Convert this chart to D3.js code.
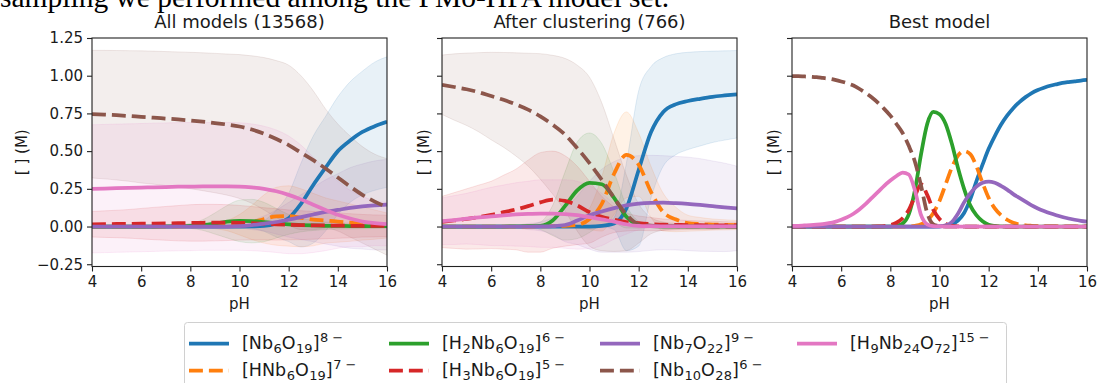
<!DOCTYPE html>
<html><head><meta charset="utf-8">
<script src="https://cdn.jsdelivr.net/npm/d3@7"></script>
<style>
body{margin:0;background:#fff;}
svg{display:block;font-family:"DejaVu Sans",sans-serif;}
</style></head><body>
<svg id="c" width="1099" height="383"></svg>
<script>
// ---------- DATA ----------
const titles = ["All models (13568)", "After clustering (766)", "Best model"];
const xTicks = [4, 6, 8, 10, 12, 14, 16];
const yTicks = [-0.25, 0, 0.25, 0.5, 0.75, 1.0, 1.25];
const labels = ["[Nb_{6}O_{19}]^{8 −}", "[HNb_{6}O_{19}]^{7 −}", "[H_{2}Nb_{6}O_{19}]^{6 −}", "[H_{3}Nb_{6}O_{19}]^{5 −}",
                "[Nb_{7}O_{22}]^{9 −}", "[Nb_{10}O_{28}]^{6 −}", "[H_{9}Nb_{24}O_{72}]^{15 −}"];
const phA = [4,4.5,5,5.5,6,6.5,7,7.5,8,8.5,9,9.5,10,10.5,11,11.5,12,12.5,13,13.5,14,14.5,15,15.5,16];
const phB = [4,4.25,4.5,4.75,5,5.25,5.5,5.75,6,6.25,6.5,6.75,7,7.25,7.5,7.75,8,8.25,8.5,8.75,9,9.25,9.5,9.75,
             10,10.25,10.5,10.75,11,11.25,11.5,11.75,12,12.25,12.5,12.75,13,13.25,13.5,13.75,14,14.25,14.5,14.75,
             15,15.25,15.5,15.75,16];

// Panel 1: all models (mean, lower, upper)
const a_blue      = [0,0,0,0,0,0,0,0,0,0,0,0,0,0.001,0.004,0.02,0.055,0.15,0.275,0.39,0.5,0.57,0.627,0.665,0.694];
const a_blue_hi   = [0.003,0.003,0.003,0.003,0.003,0.003,0.003,0.003,0.003,0.004,0.005,0.006,0.008,0.015,0.04,0.11,0.22,0.42,0.6,0.73,0.86,0.96,1.03,1.09,1.125];
const a_blue_lo   = [-0.003,-0.003,-0.003,-0.003,-0.003,-0.003,-0.003,-0.003,-0.003,-0.004,-0.005,-0.006,-0.008,-0.013,-0.032,-0.07,-0.1,-0.135,-0.11,-0.03,0.08,0.16,0.21,0.24,0.26];
const a_orange    = [0,0,0,0,0,0,0,0,0.001,0.002,0.003,0.006,0.012,0.027,0.05,0.068,0.07,0.058,0.046,0.04,0.033,0.026,0.02,0.013,0.007];
const a_orange_hi = [0.005,0.005,0.005,0.005,0.005,0.005,0.005,0.005,0.008,0.012,0.02,0.04,0.08,0.14,0.21,0.26,0.27,0.25,0.22,0.19,0.17,0.15,0.13,0.11,0.09];
const a_orange_lo = [-0.005,-0.005,-0.005,-0.005,-0.005,-0.005,-0.005,-0.005,-0.006,-0.008,-0.014,-0.028,-0.056,-0.086,-0.11,-0.124,-0.13,-0.134,-0.128,-0.11,-0.104,-0.098,-0.09,-0.084,-0.076];
const a_green     = [0,0,0,0,0,0,0.001,0.002,0.004,0.01,0.02,0.032,0.037,0.036,0.03,0.022,0.014,0.01,0.007,0.005,0.004,0.003,0.003,0.002,0.002];
const a_green_hi  = [0.005,0.005,0.005,0.005,0.005,0.005,0.006,0.01,0.02,0.045,0.09,0.14,0.175,0.18,0.16,0.12,0.08,0.055,0.04,0.03,0.025,0.022,0.02,0.017,0.015];
const a_green_lo  = [-0.005,-0.005,-0.005,-0.005,-0.005,-0.005,-0.004,-0.006,-0.012,-0.025,-0.05,-0.076,-0.1,-0.108,-0.1,-0.076,-0.052,-0.035,-0.026,-0.02,-0.017,-0.016,-0.014,-0.013,-0.011];
const a_red       = [0.015,0.016,0.017,0.018,0.019,0.02,0.021,0.022,0.024,0.025,0.026,0.026,0.025,0.022,0.018,0.014,0.011,0.009,0.008,0.007,0.006,0.005,0.005,0.004,0.004];
const a_red_hi    = [0.1,0.104,0.108,0.113,0.12,0.127,0.133,0.139,0.145,0.147,0.147,0.145,0.14,0.133,0.125,0.118,0.11,0.105,0.1,0.095,0.09,0.085,0.08,0.077,0.075];
const a_red_lo    = [-0.07,-0.072,-0.074,-0.077,-0.082,-0.087,-0.091,-0.095,-0.097,-0.097,-0.095,-0.093,-0.09,-0.089,-0.089,-0.09,-0.088,-0.087,-0.084,-0.081,-0.078,-0.075,-0.07,-0.069,-0.067];
const a_purple    = [0,0,0,0,0,0,0,0,0,0,0,0,0.003,0.01,0.02,0.03,0.045,0.062,0.08,0.097,0.11,0.123,0.133,0.14,0.145];
const a_purple_hi = [0.005,0.005,0.005,0.005,0.005,0.005,0.005,0.005,0.005,0.005,0.005,0.007,0.015,0.04,0.07,0.11,0.16,0.21,0.26,0.31,0.35,0.39,0.415,0.435,0.445];
const a_purple_lo = [-0.005,-0.005,-0.005,-0.005,-0.005,-0.005,-0.005,-0.005,-0.005,-0.005,-0.005,-0.007,-0.009,-0.02,-0.03,-0.05,-0.07,-0.086,-0.1,-0.116,-0.13,-0.144,-0.149,-0.155,-0.155];
const a_brown     = [0.745,0.742,0.738,0.733,0.727,0.722,0.716,0.71,0.703,0.695,0.686,0.676,0.663,0.643,0.615,0.58,0.54,0.49,0.44,0.385,0.325,0.265,0.21,0.165,0.13];
const a_brown_hi  = [1.168,1.168,1.167,1.166,1.165,1.163,1.16,1.158,1.155,1.152,1.148,1.144,1.14,1.132,1.12,1.1,1.07,1.0,0.9,0.78,0.68,0.6,0.53,0.48,0.45];
const a_brown_lo  = [0.322,0.316,0.309,0.3,0.289,0.281,0.272,0.262,0.251,0.238,0.224,0.208,0.186,0.154,0.11,0.06,0.01,-0.02,-0.02,-0.01,-0.03,-0.07,-0.11,-0.15,-0.19];
const a_pink      = [0.25,0.252,0.254,0.256,0.258,0.26,0.262,0.264,0.265,0.266,0.266,0.266,0.265,0.26,0.25,0.234,0.21,0.18,0.144,0.11,0.078,0.053,0.033,0.022,0.016];
const a_pink_hi   = [0.675,0.677,0.679,0.681,0.683,0.685,0.687,0.689,0.69,0.69,0.69,0.69,0.688,0.68,0.665,0.64,0.6,0.54,0.46,0.38,0.3,0.24,0.2,0.17,0.16];
const a_pink_lo   = [-0.175,-0.173,-0.171,-0.169,-0.167,-0.165,-0.163,-0.161,-0.16,-0.158,-0.158,-0.158,-0.158,-0.16,-0.165,-0.172,-0.18,-0.18,-0.172,-0.16,-0.144,-0.134,-0.134,-0.126,-0.128];

// Panel 2: after clustering
const c_blue      = [0,0,0,0,0,0,0,0,0,0,0,0,0,0.004,0.02,0.12,0.375,0.625,0.76,0.81,0.832,0.847,0.86,0.869,0.877];
const c_blue_hi   = [0.002,0.002,0.002,0.002,0.002,0.002,0.002,0.002,0.002,0.002,0.002,0.002,0.003,0.01,0.06,0.42,0.9,1.06,1.12,1.145,1.155,1.16,1.163,1.165,1.167];
const c_blue_lo   = [-0.002,-0.002,-0.002,-0.002,-0.002,-0.002,-0.002,-0.002,-0.002,-0.002,-0.002,-0.002,-0.003,-0.002,-0.02,-0.16,-0.13,0.19,0.4,0.475,0.51,0.534,0.557,0.573,0.587];
const c_orange    = [0,0,0,0,0,0,0,0,0.001,0.003,0.005,0.01,0.05,0.15,0.35,0.475,0.41,0.23,0.095,0.048,0.022,0.016,0.013,0.011,0.01];
const c_orange_hi = [0.003,0.003,0.003,0.003,0.003,0.003,0.003,0.004,0.006,0.01,0.015,0.03,0.12,0.33,0.62,0.76,0.62,0.4,0.22,0.13,0.075,0.06,0.05,0.045,0.04];
const c_orange_lo = [-0.003,-0.003,-0.003,-0.003,-0.003,-0.003,-0.003,-0.004,-0.004,-0.004,-0.005,-0.01,-0.02,-0.03,0.08,0.19,0.2,0.06,-0.03,-0.034,-0.031,-0.028,-0.024,-0.023,-0.02];
const c_green     = [0,0,0,0,0,0,0.001,0.002,0.005,0.04,0.135,0.24,0.29,0.28,0.19,0.065,0.012,0.003,0,0,0,0,0,0,0];
const c_green_hi  = [0.002,0.002,0.002,0.002,0.002,0.003,0.005,0.012,0.03,0.14,0.36,0.56,0.62,0.55,0.36,0.14,0.035,0.01,0.003,0.002,0.002,0.002,0.002,0.002,0.002];
const c_green_lo  = [-0.002,-0.002,-0.002,-0.002,-0.002,-0.003,-0.003,-0.008,-0.02,-0.06,-0.09,-0.08,-0.04,0.01,0.02,-0.01,-0.011,-0.004,-0.003,-0.002,-0.002,-0.002,-0.002,-0.002,-0.002];
const c_red       = [0.03,0.04,0.05,0.063,0.077,0.095,0.113,0.135,0.16,0.178,0.17,0.14,0.095,0.065,0.045,0.03,0.022,0.016,0.012,0.011,0.01,0.009,0.008,0.008,0.007];
const c_red_hi    = [0.2,0.225,0.25,0.275,0.3,0.34,0.38,0.44,0.49,0.5,0.47,0.4,0.3,0.2,0.13,0.09,0.07,0.06,0.05,0.045,0.04,0.037,0.035,0.032,0.03];
const c_red_lo    = [-0.14,-0.145,-0.15,-0.149,-0.146,-0.15,-0.154,-0.17,-0.17,-0.144,-0.13,-0.12,-0.11,-0.07,-0.04,-0.03,-0.026,-0.028,-0.026,-0.023,-0.02,-0.019,-0.019,-0.016,-0.016];
const c_purple    = [0,0,0,0,0,0,0,0,0.001,0.003,0.01,0.04,0.075,0.1,0.122,0.14,0.152,0.157,0.158,0.155,0.15,0.143,0.135,0.127,0.12];
const c_purple_hi = [0.01,0.01,0.01,0.01,0.01,0.01,0.01,0.02,0.03,0.06,0.12,0.2,0.3,0.38,0.43,0.46,0.47,0.472,0.47,0.465,0.46,0.45,0.435,0.42,0.4];
const c_purple_lo = [-0.01,-0.01,-0.01,-0.01,-0.01,-0.01,-0.01,-0.02,-0.028,-0.054,-0.1,-0.12,-0.15,-0.17,-0.17,-0.17,-0.166,-0.158,-0.154,-0.155,-0.16,-0.164,-0.165,-0.166,-0.16];
const c_brown     = [0.94,0.925,0.91,0.89,0.865,0.84,0.81,0.775,0.73,0.675,0.61,0.52,0.42,0.31,0.19,0.08,0.015,0.006,0.003,0.002,0.001,0.001,0,0,0];
const c_brown_hi  = [1.137,1.145,1.15,1.153,1.155,1.154,1.152,1.149,1.146,1.135,1.115,1.07,0.99,0.82,0.58,0.34,0.15,0.06,0.03,0.02,0.015,0.012,0.01,0.01,0.01];
const c_brown_lo  = [0.743,0.705,0.67,0.627,0.575,0.526,0.468,0.401,0.314,0.215,0.105,-0.03,-0.13,-0.16,-0.165,-0.16,-0.11,-0.048,-0.024,-0.016,-0.013,-0.01,-0.01,-0.01,-0.01];
const c_pink      = [0.035,0.043,0.052,0.06,0.067,0.074,0.08,0.084,0.086,0.086,0.083,0.075,0.062,0.047,0.033,0.015,0.004,0.002,0.001,0.001,0.001,0.001,0.001,0.001,0.001];
const c_pink_hi   = [0.19,0.205,0.22,0.24,0.26,0.275,0.29,0.3,0.31,0.31,0.31,0.3,0.27,0.22,0.15,0.08,0.03,0.012,0.006,0.005,0.005,0.005,0.005,0.005,0.005];
const c_pink_lo   = [-0.12,-0.119,-0.116,-0.12,-0.126,-0.127,-0.13,-0.132,-0.138,-0.138,-0.144,-0.15,-0.146,-0.126,-0.084,-0.05,-0.022,-0.008,-0.004,-0.003,-0.003,-0.003,-0.003,-0.003,-0.003];

// Panel 3: best model (on phB)
const b_blue   = [0,0,0,0, 0,0,0,0, 0,0,0,0, 0,0,0,0, 0,0,0,0, 0,0,0,0, 0,0.005,0.015,0.04, 0.09,0.18,0.3,0.41, 0.515,0.6,0.675,0.735, 0.785,0.825,0.858,0.885, 0.905,0.92,0.933,0.943, 0.952,0.958,0.963,0.968, 0.972];
const b_orange = [0,0,0,0, 0,0,0,0, 0,0,0,0, 0,0,0,0, 0,0,0,0, 0.005,0.015,0.04,0.09, 0.17,0.28,0.39,0.47, 0.5,0.48,0.4,0.29, 0.19,0.12,0.075,0.045, 0.025,0.014,0.008,0.005, 0.003,0.002,0.001,0.001, 0,0,0,0, 0];
const b_green  = [0,0,0,0, 0,0,0,0, 0,0,0,0, 0,0,0,0, 0,0.005,0.02,0.08, 0.24,0.48,0.68,0.76, 0.745,0.68,0.55,0.39, 0.25,0.14,0.075,0.035, 0.012,0.004,0.001,0, 0,0,0,0, 0,0,0,0, 0,0,0,0, 0];
const b_red    = [0,0,0,0, 0,0,0,0, 0,0,0,0, 0,0,0.001,0.003, 0.01,0.025,0.055,0.11, 0.2,0.28,0.21,0.11, 0.05,0.018,0.005,0.001, 0,0,0,0, 0,0,0,0, 0,0,0,0, 0,0,0,0, 0,0,0,0, 0];
const b_purple = [0,0,0,0, 0,0,0,0, 0,0,0,0, 0,0,0,0, 0,0,0,0, 0,0,0,0, 0.002,0.008,0.03,0.085, 0.16,0.22,0.265,0.29, 0.298,0.29,0.27,0.245, 0.215,0.19,0.165,0.14, 0.12,0.103,0.088,0.075, 0.063,0.053,0.045,0.038, 0.032];
const b_brown  = [0.998,0.997,0.995,0.993, 0.99,0.985,0.98,0.972, 0.962,0.95,0.935,0.912, 0.885,0.855,0.82,0.78, 0.735,0.68,0.62,0.535, 0.43,0.27,0.09,0.015, 0.003,0,0,0, 0,0,0,0, 0,0,0,0, 0,0,0,0, 0,0,0,0, 0,0,0,0, 0];
const b_pink   = [0.004,0.005,0.007,0.009, 0.012,0.016,0.022,0.031, 0.045,0.062,0.085,0.115, 0.15,0.19,0.23,0.27, 0.305,0.335,0.358,0.345, 0.24,0.075,0.015,0.003, 0.001,0,0,0, 0,0,0,0, 0,0,0,0, 0,0,0,0, 0,0,0,0, 0,0,0,0, 0];

// ---------- STYLE / LAYOUT ----------
const colors = ["#1f77b4","#ff7f0e","#2ca02c","#d62728","#9467bd","#8c564b","#e377c2"];
const dashed = [false,true,false,true,false,true,false];
const LW = 3.75, DASH = "13.9,6";
const PW = 295, PT = 38, PB = 266.5;
const lefts = [92, 442, 792];
const ylabX = [22, 424, 774];
const TXT = "#1a1a1a";

const svg = d3.select("#c");

svg.append("text").attr("x", 0).attr("y", 7)
  .attr("font-family", "'Liberation Serif', serif").attr("font-size", 29.5).attr("fill", "#000")
  .text("sampling we performed among the PMo-HPA model set.");

function panel(i, ph, means, los, his, showY) {
  const x = d3.scaleLinear().domain([4, 16]).range([lefts[i], lefts[i] + PW]);
  const y = d3.scaleLinear().domain([-0.265, 1.25]).range([PB, PT]);
  const g = svg.append("g");
  const cid = "clip" + i;
  svg.append("clipPath").attr("id", cid).append("rect")
    .attr("x", lefts[i]).attr("y", PT).attr("width", PW).attr("height", PB - PT);
  const pg = g.append("g").attr("clip-path", `url(#${cid})`);
  if (los) {
    means.forEach((m, k) => {
      const area = d3.area().curve(d3.curveMonotoneX)
        .x((d, j) => x(ph[j])).y0((d, j) => y(los[k][j])).y1((d, j) => y(his[k][j]));
      pg.append("path").attr("d", area(m)).attr("fill", colors[k]).attr("fill-opacity", 0.1)
        .attr("stroke", colors[k]).attr("stroke-opacity", 0.12).attr("stroke-width", 1);
    });
  }
  means.forEach((m, k) => {
    const line = d3.line().curve(d3.curveMonotoneX).x((d, j) => x(ph[j])).y(d => y(d));
    pg.append("path").attr("d", line(m)).attr("fill", "none").attr("stroke", colors[k])
      .attr("stroke-width", LW).attr("stroke-dasharray", dashed[k] ? DASH : null);
  });
  const xa = g.append("g").attr("transform", `translate(0,${PB})`)
    .call(d3.axisBottom(x).tickValues(xTicks).tickFormat(d3.format("d")).tickSize(5).tickSizeOuter(0).tickPadding(5));
  const ya = g.append("g").attr("transform", `translate(${lefts[i]},0)`)
    .call(d3.axisLeft(y).tickValues(yTicks).tickFormat(showY ? d3.format(".2f") : () => "").tickSize(5).tickSizeOuter(0).tickPadding(4));
  [xa, ya].forEach(a => {
    a.select(".domain").remove();
    a.selectAll("line").attr("stroke", "#222").attr("stroke-width", 1.1);
    a.selectAll("text").attr("font-size", 15).attr("font-family", "'DejaVu Sans', sans-serif").attr("fill", TXT);
  });
  g.append("rect").attr("x", lefts[i]).attr("y", PT).attr("width", PW).attr("height", PB - PT)
    .attr("fill", "none").attr("stroke", "#222").attr("stroke-width", 1.1);
  g.append("text").attr("x", lefts[i] + PW / 2).attr("y", 28).attr("text-anchor", "middle")
    .attr("font-size", 18).attr("fill", TXT).text(titles[i]);
  g.append("text").attr("x", lefts[i] + PW / 2).attr("y", 309).attr("text-anchor", "middle")
    .attr("font-size", 15).attr("fill", TXT).text("pH");
  g.append("text").attr("transform", `translate(${ylabX[i]},${(PT + PB) / 2}) rotate(-90)`)
    .attr("text-anchor", "middle").attr("dy", "0.35em").attr("font-size", 15).attr("fill", TXT).text("[ ] (M)");
}

panel(0, phA,
  [a_blue, a_orange, a_green, a_red, a_purple, a_brown, a_pink],
  [a_blue_lo, a_orange_lo, a_green_lo, a_red_lo, a_purple_lo, a_brown_lo, a_pink_lo],
  [a_blue_hi, a_orange_hi, a_green_hi, a_red_hi, a_purple_hi, a_brown_hi, a_pink_hi], true);
panel(1, phA,
  [c_blue, c_orange, c_green, c_red, c_purple, c_brown, c_pink],
  [c_blue_lo, c_orange_lo, c_green_lo, c_red_lo, c_purple_lo, c_brown_lo, c_pink_lo],
  [c_blue_hi, c_orange_hi, c_green_hi, c_red_hi, c_purple_hi, c_brown_hi, c_pink_hi], false);
panel(2, phB, [b_blue, b_orange, b_green, b_red, b_purple, b_brown, b_pink], null, null, false);

// ---------- LEGEND ----------
svg.append("rect").attr("x", 184.5).attr("y", 322.5).attr("width", 822).attr("height", 80).attr("rx", 3)
  .attr("fill", "#fff").attr("fill-opacity", 0.8).attr("stroke", "#d0d0d0").attr("stroke-width", 1);
const legCols = [189, 389, 600, 797];
const legRows = [343.5, 370.5];
labels.forEach((lab, k) => {
  const lx = legCols[Math.floor(k / 2)], ly = legRows[k % 2];
  svg.append("line").attr("x1", lx).attr("x2", lx + 40).attr("y1", ly).attr("y2", ly)
    .attr("stroke", colors[k]).attr("stroke-width", LW).attr("stroke-dasharray", dashed[k] ? DASH : null);
  const t = svg.append("text").attr("x", lx + 53).attr("y", ly + 5.5).attr("font-size", 17.5).attr("fill", TXT);
  const parts = lab.match(/_\{[^}]*\}|\^\{[^}]*\}|[^_^]+/g);
  let off = 0;
  parts.forEach(p => {
    let target = 0, txt = p, fs = 17.5, dx = 0;
    if (p.startsWith("_{")) { target = 3.5; txt = p.slice(2, -1); fs = 13; dx = 0.5; }
    else if (p.startsWith("^{")) { target = -7.5; txt = p.slice(2, -1); fs = 13; dx = 0.5; }
    t.append("tspan").attr("dy", target - off).attr("dx", dx).attr("font-size", fs).text(txt);
    off = target;
  });
});
</script>
</body></html>
